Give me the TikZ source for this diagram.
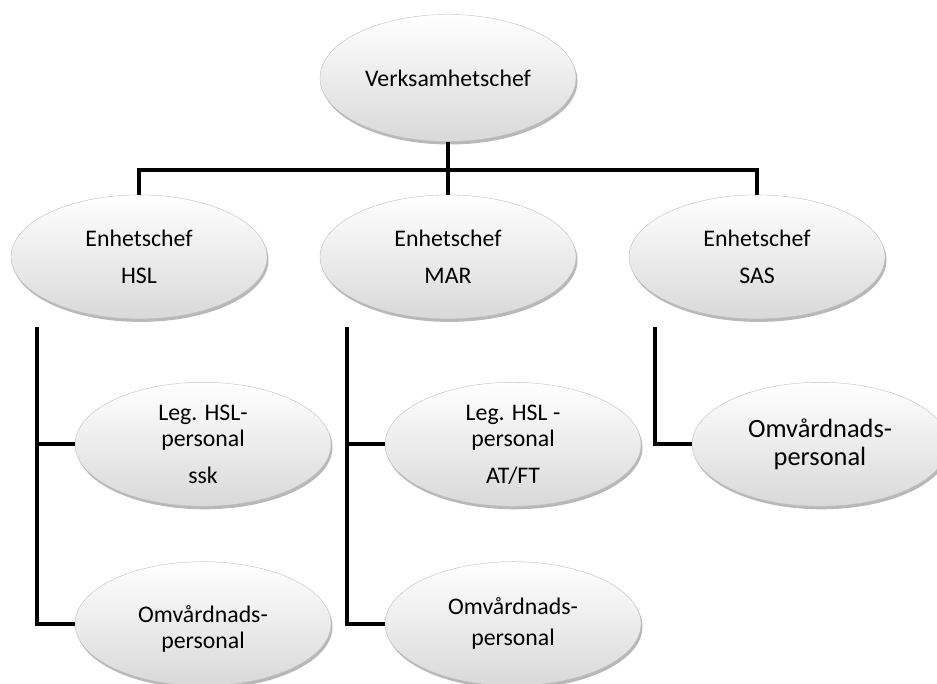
\documentclass[tikz,border=0pt]{standalone}
\usepackage{fontspec}
\setmainfont{Carlito}
\usetikzlibrary{positioning, shapes.geometric, shadows}

\tikzset{
    chef/.style={ellipse, draw=gray!50, line width=0.4pt, top color=white, bottom color=gray!30,
        minimum width=256pt, minimum height=124pt, inner sep=0pt, align=center,
        font=\fontsize{23.8pt}{26pt}\selectfont,
        drop shadow={opacity=0.28, shadow xshift=1.5pt, shadow yshift=-3pt, fill=black}},
    link/.style={line width=4pt, black}
}

\begin{document}
\begin{tikzpicture}[node distance=53pt]
    \useasboundingbox (0,0) rectangle (937pt,684pt);

    \node (vc) [chef, minimum height=127pt] at (448pt,606pt) {Verksamhetschef};
    \node (hsl) [chef, below=of vc, xshift=-309pt] {Enhetschef\\[11pt]HSL};
    \node (mar) [chef, below=of vc] {Enhetschef\\[11pt]MAR};
    \node (sas) [chef, below=of vc, xshift=309pt] {Enhetschef\\[11pt]SAS};

    \node (leghsl) [chef, below=63pt of hsl, xshift=64pt] {Leg. HSL-\\personal\\[11pt]ssk};
    \node (omvhsl) [chef, below=55pt of leghsl] {\rule{0pt}{28pt}Omvårdnads-\\personal};
    \node (legmar) [chef, below=63pt of mar, xshift=65pt] {Leg. HSL -\\personal\\[11pt]AT/FT};
    \node (omvmar) [chef, below=55pt of legmar] {Omvårdnads-\\[5pt]personal};
    \node (omvsas) [chef, below=63pt of sas, xshift=63pt,
        font=\fontsize{26.4pt}{28pt}\selectfont] {Omvårdnads-\\personal};

    % top level
    \coordinate (bar) at ([yshift=-28pt]vc.south);
    \draw[link] (vc.south) -- (mar.north);
    \draw[link] (hsl.north) |- (bar) -| (sas.north);

    % branches
    \coordinate (hslL) at ([xshift=-102pt, yshift=-8pt]hsl.south);
    \coordinate (marL) at ([xshift=-101pt, yshift=-8pt]mar.south);
    \coordinate (sasL) at ([xshift=-102pt, yshift=-8pt]sas.south);
    \draw[link] (hslL) |- (leghsl.west);
    \draw[link] (hslL) |- (omvhsl.west);
    \draw[link] (marL) |- (legmar.west);
    \draw[link] (marL) |- (omvmar.west);
    \draw[link] (sasL) |- (omvsas.west);
\end{tikzpicture}
\end{document}
